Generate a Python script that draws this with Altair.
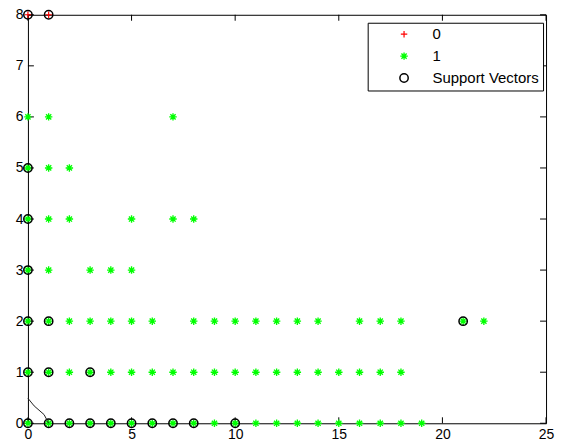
import altair as alt
import pandas as pd

# ---- data ----
x_ticks = [0, 5, 10, 15, 20, 25]
y_ticks = [0, 1, 2, 3, 4, 5, 6, 7, 8]

# class "1" (green stars), grouped by row y
c1_row0 = [0, 1, 2, 3, 4, 5, 6, 7, 8, 9, 10, 11, 12, 13, 14, 15, 16, 17, 18, 19]
c1_row1 = [0, 1, 2, 3, 4, 5, 6, 7, 8, 9, 10, 11, 12, 13, 14, 15, 16, 17, 18]
c1_row2 = [0, 1, 2, 3, 4, 5, 6, 8, 9, 10, 11, 12, 13, 14, 16, 17, 18, 21, 22]
c1_row3 = [0, 1, 3, 4, 5]
c1_row4 = [0, 1, 2, 5, 7, 8]
c1_row5 = [0, 1, 2]
c1_row6 = [0, 1, 7]

# class "0" (red plus)
c0_x = [0, 1]
c0_y = [8, 8]

# support vectors (black circles)
sv_x = [0, 1, 2, 3, 4, 5, 6, 7, 8, 10, 0, 1, 3, 0, 1, 21, 0, 0, 0, 0, 1]
sv_y = [0, 0, 0, 0, 0, 0, 0, 0, 0, 0, 1, 1, 1, 2, 2, 2, 3, 4, 5, 8, 8]

# decision boundary
line_x = [0.0, 0.3, 0.78, 1.0]
line_y = [0.49, 0.34, 0.17, 0.0]

W, H = 520, 410
TICK = 6

rows = []
for yv, xs_ in [(0, c1_row0), (1, c1_row1), (2, c1_row2), (3, c1_row3),
                (4, c1_row4), (5, c1_row5), (6, c1_row6)]:
    for xv in xs_:
        rows.append({"x": xv, "y": yv, "cls": "1"})
for xv, yv in zip(c0_x, c0_y):
    rows.append({"x": xv, "y": yv, "cls": "0"})
for xv, yv in zip(sv_x, sv_y):
    rows.append({"x": xv, "y": yv, "cls": "Support Vectors"})
pts_df = pd.DataFrame(rows)
pts_df["ord"] = range(len(pts_df))

line_df = pd.DataFrame({"x": line_x, "y": line_y})
xt_df = pd.DataFrame({"v": x_ticks})
yt_df = pd.DataFrame({"v": y_ticks})

STAR = "M-1,0L1,0M0,-1L0,1M-0.7,-0.7L0.7,0.7M-0.7,0.7L0.7,-0.7"
PLUS = "M-1,0L1,0M0,-1L0,1"

xs = alt.Scale(domain=[0, 25], nice=False, zero=False)
ys = alt.Scale(domain=[0, 8], nice=False, zero=False)
xaxis = alt.Axis(values=x_ticks, ticks=False, domain=False, grid=False,
                 labelPadding=4, title=None, labelFlush=False)
yaxis = alt.Axis(values=y_ticks, ticks=False, domain=False, grid=False,
                 labelPadding=5, title=None, labelFlush=False)

dom = ["0", "1", "Support Vectors"]
legend = alt.Legend(title=None, orient="none", legendX=341, legendY=8,
                    strokeColor="black", fillColor="white", padding=4,
                    rowPadding=6, symbolOffset=25, labelOffset=21,
                    labelFontSize=15, labelFont="Liberation Sans",
                    labelColor="black", symbolSize=42, symbolStrokeWidth=1,
                    cornerRadius=0)

points = alt.Chart(pts_df).mark_point(filled=False, opacity=1).encode(
    x=alt.X("x:Q", scale=xs, axis=xaxis),
    y=alt.Y("y:Q", scale=ys, axis=yaxis),
    color=alt.Color("cls:N", scale=alt.Scale(domain=dom, range=["#ff0000", "#00ff00", "#000000"]), legend=legend),
    shape=alt.Shape("cls:N", scale=alt.Scale(domain=dom, range=[PLUS, STAR, "circle"]), legend=legend),
    size=alt.Size("cls:N", scale=alt.Scale(domain=dom, range=[42, 70, 49]), legend=None),
    strokeWidth=alt.StrokeWidth("cls:N", scale=alt.Scale(domain=dom, range=[1.2, 1.5, 1.0]), legend=None),
    order=alt.Order("ord:Q"),
)

boundary = alt.Chart(line_df).mark_line(color="#222222", strokeWidth=1).encode(
    x=alt.X("x:Q", scale=xs, axis=xaxis),
    y=alt.Y("y:Q", scale=ys, axis=yaxis),
)

tick_bottom = alt.Chart(xt_df).mark_rule(color="black", strokeWidth=1).encode(
    x=alt.X("v:Q", scale=xs, axis=xaxis), y=alt.value(H), y2=alt.value(H - TICK))
tick_top = alt.Chart(xt_df).mark_rule(color="black", strokeWidth=1).encode(
    x=alt.X("v:Q", scale=xs, axis=xaxis), y=alt.value(0), y2=alt.value(TICK))
tick_left = alt.Chart(yt_df).mark_rule(color="black", strokeWidth=1).encode(
    y=alt.Y("v:Q", scale=ys, axis=yaxis), x=alt.value(0), x2=alt.value(TICK))
tick_right = alt.Chart(yt_df).mark_rule(color="black", strokeWidth=1).encode(
    y=alt.Y("v:Q", scale=ys, axis=yaxis), x=alt.value(W), x2=alt.value(W - TICK))

chart = alt.layer(tick_bottom, tick_top, tick_left, tick_right, points, boundary).properties(
    width=W, height=H,
    autosize=alt.AutoSizeParams(type="none"),
    padding={"left": 20, "top": 6, "right": 10, "bottom": 19},
    background="white",
).configure_view(stroke="black", strokeWidth=1).configure_axis(
    labelFont="Liberation Sans", labelFontSize=14, labelColor="black"
)

chart.save("out.html", embed_options={"renderer": "svg", "actions": False})
